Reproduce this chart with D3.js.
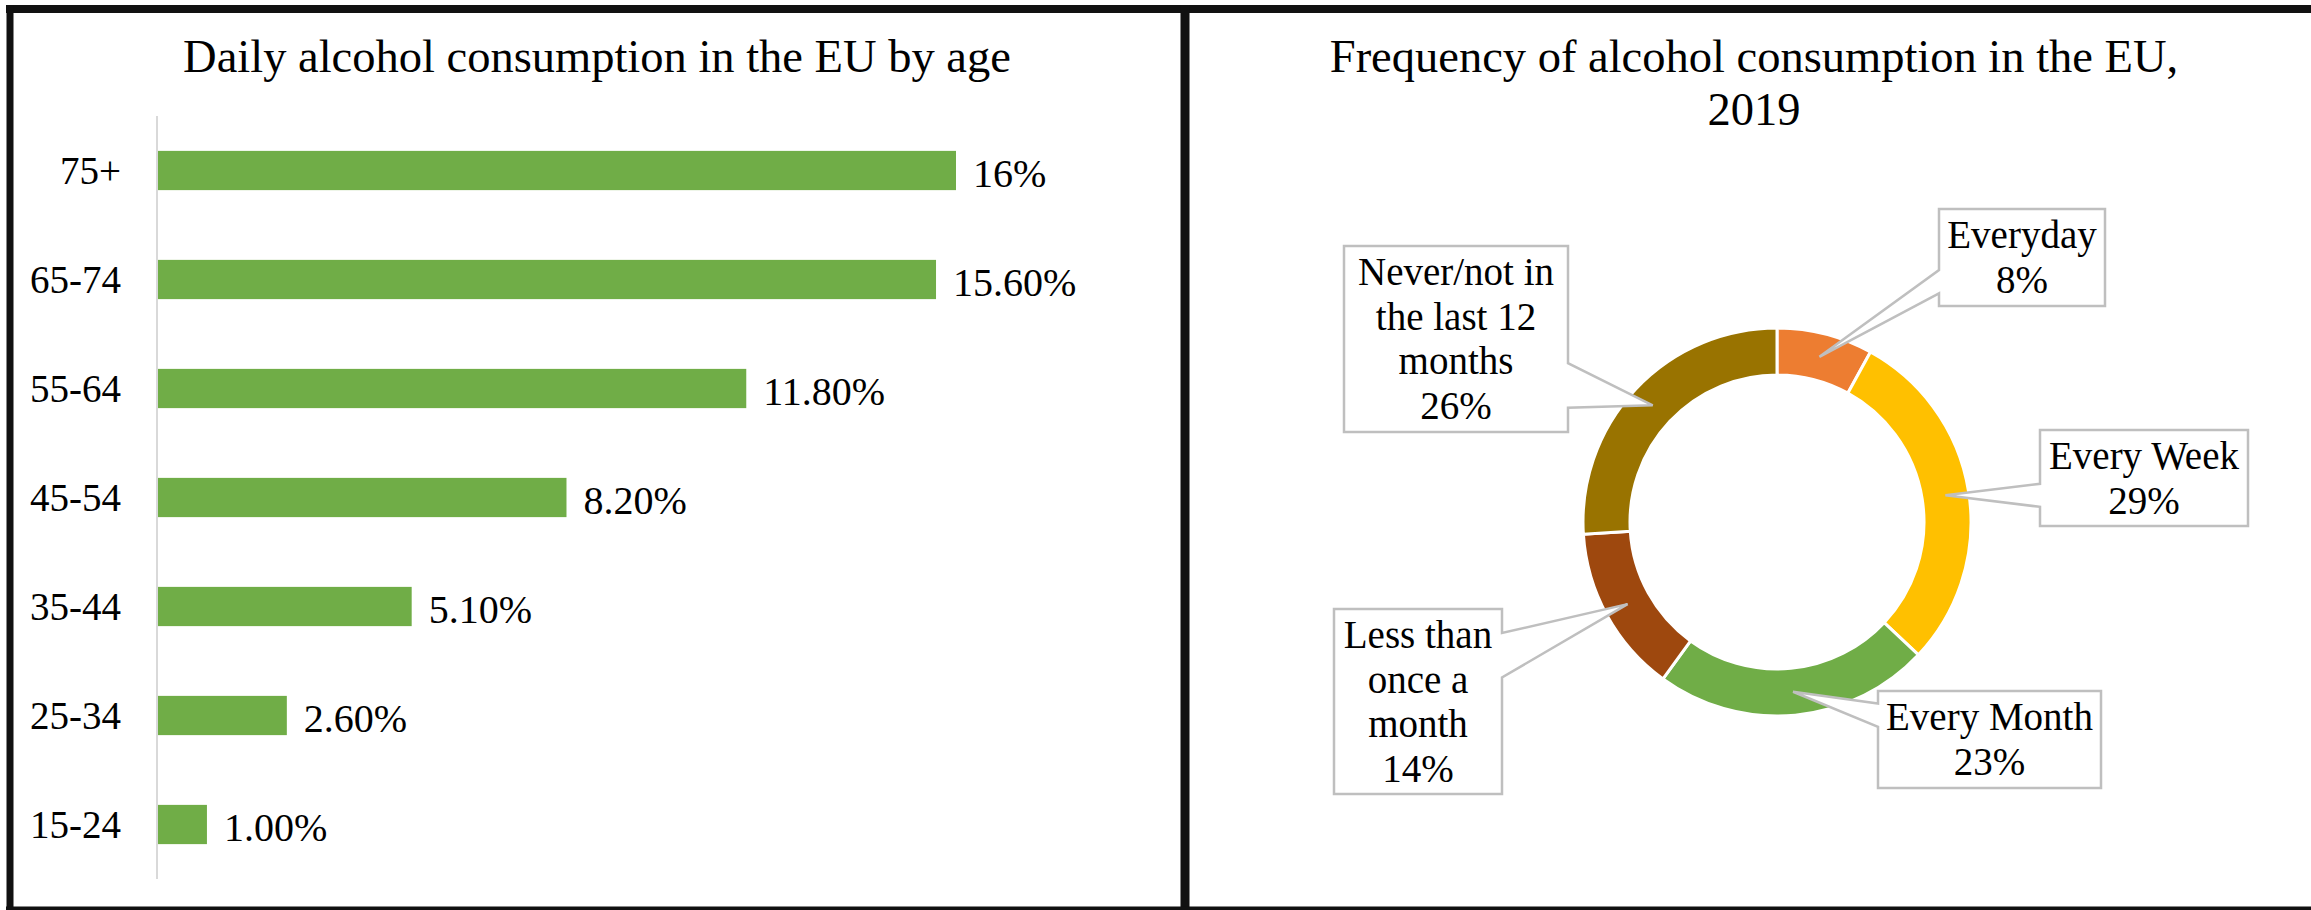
<!DOCTYPE html>
<html>
<head>
<meta charset="utf-8">
<script src="https://cdn.jsdelivr.net/npm/d3@7"></script>
<style>
  body { margin: 0; background: #fff; }
  svg text { font-family: "Liberation Serif", "DejaVu Serif", serif; fill: #000; }
</style>
</head>
<body>
<div id="chart"></div>
<script>
// bar chart data
const ageGroups = ["75+", "65-74", "55-64", "45-54", "35-44", "25-34", "15-24"];
const dailyShare = [16, 15.6, 11.8, 8.2, 5.1, 2.6, 1.0];
const dailyLabels = ["16%", "15.60%", "11.80%", "8.20%", "5.10%", "2.60%", "1.00%"];

// donut data
const freqNames = ["Everyday", "Every Week", "Every Month", "Less than once a month", "Never/not in the last 12 months"];
const freqShare = [8, 29, 23, 14, 26];
const freqColors = ["#ED7D31", "#FFC000", "#70AD47", "#9E480E", "#997300"];
const freqLabelLines = [
	["Everyday", "8%"],
	["Every Week", "29%"],
	["Every Month", "23%"],
	["Less than", "once a", "month", "14%"],
	["Never/not in", "the last 12", "months", "26%"]
];

// callout box placement (layout only)
const calloutBoxes = [
	{ x: 1939, y: 209, w: 166, h: 97, side: "left" },
	{ x: 2040, y: 430, w: 208, h: 96, side: "left" },
	{ x: 1878, y: 691, w: 223, h: 97, side: "left" },
	{ x: 1334, y: 609, w: 168, h: 185, side: "right" },
	{ x: 1344, y: 246, w: 224, h: 186, side: "right" }
];

const W = 2311, H = 910;
const svg = d3.select("#chart").append("svg")
	.attr("width", W).attr("height", H);

// panel frames
const frame = svg.append("g").attr("class", "frames").attr("stroke", "#111");
frame.append("line").attr("x1", 6).attr("x2", W).attr("y1", 9).attr("y2", 9).attr("stroke-width", 8);
frame.append("line").attr("x1", 10).attr("x2", 10).attr("y1", 5).attr("y2", H).attr("stroke-width", 7);
frame.append("line").attr("x1", 1185).attr("x2", 1185).attr("y1", 5).attr("y2", H).attr("stroke-width", 9);
frame.append("line").attr("x1", 6).attr("x2", W).attr("y1", 909).attr("y2", 909).attr("stroke-width", 5);

// ---- left: bar chart ----
const barG = svg.append("g").attr("class", "barChart");

barG.append("text")
	.attr("x", 597).attr("y", 72)
	.attr("text-anchor", "middle")
	.style("font-size", "46.5px")
	.text("Daily alcohol consumption in the EU by age");

const xScale = d3.scaleLinear().domain([0, 16]).range([157, 956]);
const yScale = d3.scaleBand().domain(ageGroups).range([116, 879])
	.paddingInner(0.64).paddingOuter(0.32);

barG.append("line")
	.attr("x1", xScale(0)).attr("x2", xScale(0))
	.attr("y1", 116).attr("y2", 879)
	.attr("stroke", "#D9D9D9").attr("stroke-width", 2);

const rows = ageGroups.map((g, i) => ({ group: g, val: dailyShare[i], label: dailyLabels[i] }));

barG.selectAll("rect.bar").data(rows).enter()
	.append("rect")
	.attr("class", "bar")
	.attr("x", xScale(0) + 1)
	.attr("y", d => yScale(d.group))
	.attr("width", d => xScale(d.val) - xScale(0) - 1)
	.attr("height", yScale.bandwidth())
	.attr("fill", "#70AD47");

barG.selectAll("text.cat").data(rows).enter()
	.append("text")
	.attr("class", "cat")
	.attr("x", 121)
	.attr("y", d => yScale(d.group) + yScale.bandwidth() / 2)
	.attr("dy", "0.35em")
	.attr("text-anchor", "end")
	.style("font-size", "39px")
	.text(d => d.group);

barG.selectAll("text.val").data(rows).enter()
	.append("text")
	.attr("class", "val")
	.attr("x", d => xScale(d.val) + 17)
	.attr("y", d => yScale(d.group) + yScale.bandwidth() / 2)
	.attr("dy", "0.4em")
	.style("font-size", "40px")
	.text(d => d.label);

// ---- right: donut ----
const donutG = svg.append("g").attr("class", "donut");

donutG.append("text")
	.attr("x", 1754).attr("y", 72)
	.attr("text-anchor", "middle")
	.style("font-size", "46.5px")
	.text("Frequency of alcohol consumption in the EU,");
donutG.append("text")
	.attr("x", 1754).attr("y", 125)
	.attr("text-anchor", "middle")
	.style("font-size", "46.5px")
	.text("2019");

const cx = 1777, cy = 522;
const outerR = 194, innerR = 147;

const pieFn = d3.pie().sort(null).value(d => d.val);
const arcFn = d3.arc().innerRadius(innerR).outerRadius(outerR);

const slices = freqNames.map((n, i) => ({
	name: n, val: freqShare[i], color: freqColors[i], lines: freqLabelLines[i], box: calloutBoxes[i]
}));
const arcs = pieFn(slices);

const ring = donutG.append("g").attr("transform", `translate(${cx},${cy})`);
ring.selectAll("path").data(arcs).enter()
	.append("path")
	.attr("d", arcFn)
	.attr("fill", d => d.data.color)
	.attr("stroke", "#fff")
	.attr("stroke-width", 3);

// callouts with pointer wedge to each slice centroid
function calloutPath(b, tip) {
	const base = Math.max(b.y + 0.25 * b.h, Math.min(tip[1], b.y + 0.75 * b.h));
	const half = 0.12 * b.h;
	const b1 = base - half, b2 = base + half;
	let pts;
	if (b.side === "left") {
		pts = [[b.x, b.y], [b.x + b.w, b.y], [b.x + b.w, b.y + b.h], [b.x, b.y + b.h],
			[b.x, b2], tip, [b.x, b1]];
	} else {
		pts = [[b.x, b.y], [b.x + b.w, b.y], [b.x + b.w, b1], tip, [b.x + b.w, b2],
			[b.x + b.w, b.y + b.h], [b.x, b.y + b.h]];
	}
	return "M" + pts.map(p => p.join(",")).join("L") + "Z";
}

const callG = donutG.append("g").attr("class", "callouts");
arcs.forEach(a => {
	const c = arcFn.centroid(a);
	const tip = [cx + c[0], cy + c[1]];
	const b = a.data.box;
	callG.append("path")
		.attr("d", calloutPath(b, tip))
		.attr("fill", "#fff")
		.attr("stroke", "#BFBFBF")
		.attr("stroke-width", 2.5)
		.attr("stroke-linejoin", "miter");
	const t = callG.append("text")
		.attr("text-anchor", "middle")
		.style("font-size", "39px");
	a.data.lines.forEach((ln, j) => {
		t.append("tspan")
			.attr("x", b.x + b.w / 2)
			.attr("y", b.y + 39 + j * 44.5)
			.text(ln);
	});
});
</script>
</body>
</html>
